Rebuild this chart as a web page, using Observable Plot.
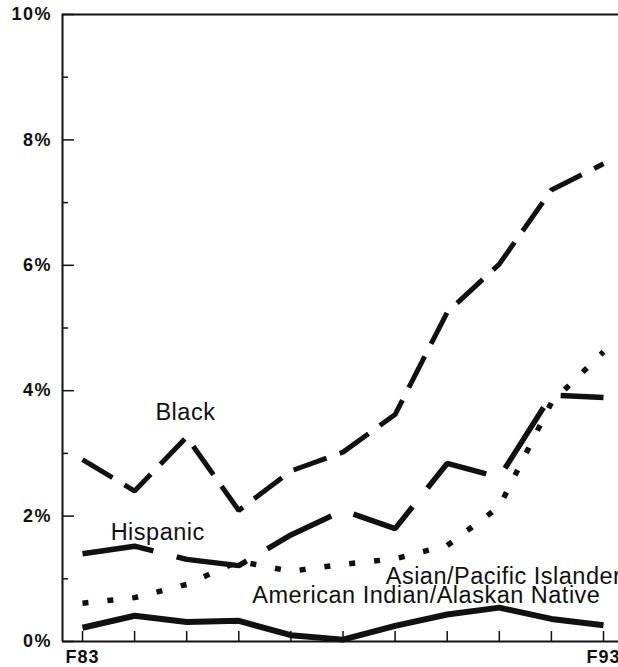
<!DOCTYPE html>
<html>
<head>
<meta charset="utf-8">
<script src="https://cdn.jsdelivr.net/npm/d3@7"></script>
<script src="https://cdn.jsdelivr.net/npm/@observablehq/plot@0.6"></script>
<style>
  html, body { margin: 0; padding: 0; background: #fff; }
  #chart { width: 618px; height: 667px; overflow: hidden; }
</style>
</head>
<body>
<div id="chart"></div>
<script>
// ---- data ----
const years = [83, 84, 85, 86, 87, 88, 89, 90, 91, 92, 93];
const black    = [2.90, 2.40, 3.26, 2.09, 2.72, 3.02, 3.62, 5.25, 6.02, 7.20, 7.62];
const hispanic = [1.40, 1.52, 1.31, 1.21, 1.70, 2.09, 1.80, 2.84, 2.62, 3.93, 3.89];
const asian    = [0.61, 0.70, 0.91, 1.28, 1.12, 1.23, 1.32, 1.53, 2.15, 3.81, 4.62];
const amIndian = [0.22, 0.41, 0.31, 0.33, 0.10, 0.03, 0.25, 0.43, 0.54, 0.36, 0.26];

const yTickValues = [0, 2, 4, 6, 8, 10];
const yMinorValues = [1, 3, 5, 7, 9];
const xTickLabels = [83, 93];

const seriesNames = ["Black", "Hispanic", "Asian/Pacific Islander", "American Indian/Alaskan Native"];
const seriesValues = [black, hispanic, asian, amIndian];

// label anchors (data units)
const labelX = [84.40, 83.54, 88.82, 86.26];
const labelY = [3.645, 1.74, 1.045, 0.734];

// ---- styles ----
const styles = {
  "Black": {strokeWidth: 5, dash: "35 14"},
  "Hispanic": {strokeWidth: 5.5, dash: "72 24"},
  "Asian/Pacific Islander": {strokeWidth: 5.5, dash: "6 19"},
  "American Indian/Alaskan Native": {strokeWidth: 6, dash: null}
};
const FONT = "'Liberation Sans', Arial, Helvetica, sans-serif";

// ---- layout ----
const W = 618, H = 667;
const mL = 62, mR = 0, mT = 14, mB = 26;
const pxPerYear = 52.1;
const x0 = 83 - (82 - mL) / pxPerYear;
const x1 = x0 + (W - mL - mR) / pxPerYear;
const pxPerPct = (H - mT - mB) / 10;

const rows = [];
seriesNames.forEach((name, i) => {
  years.forEach((yr, j) => rows.push({series: name, year: yr, value: seriesValues[i][j]}));
});

const labels = seriesNames.map((name, i) => ({name, x: labelX[i], y: labelY[i]}));

const lineMarks = seriesNames.map(name => Plot.line(rows.filter(r => r.series === name), {
  x: "year", y: "value",
  stroke: "#111",
  strokeWidth: styles[name].strokeWidth,
  strokeDasharray: styles[name].dash,
  strokeLinecap: "butt",
  strokeLinejoin: "miter"
}));

const chart = Plot.plot({
  width: W, height: H,
  marginLeft: mL, marginRight: mR, marginTop: mT, marginBottom: mB,
  style: {background: "#fff", fontFamily: FONT, color: "#111", overflow: "hidden"},
  x: {domain: [x0, x1], axis: null},
  y: {domain: [0, 10], axis: null},
  marks: [
    // tick labels
    Plot.text(yTickValues, {x: () => x0, y: d => d, text: d => d + "%", textAnchor: "end", lineAnchor: "middle",
      dx: -10.5, fontSize: 18, fontWeight: "bold", fontFamily: FONT, fill: "#111", className: "ylab"}),
    Plot.text(xTickLabels, {x: d => d, y: () => 0, text: d => "F" + d, textAnchor: "middle", lineAnchor: "top",
      dy: 9, fontSize: 18, fontWeight: "bold", fontFamily: FONT, fill: "#111", className: "xlab"}),
    // frame lines
    Plot.ruleY([0, 10], {stroke: "#111", strokeWidth: 2}),
    Plot.ruleX([x0], {stroke: "#111", strokeWidth: 2}),
    // y ticks (inward)
    Plot.ruleY(yTickValues, {y: d => d, x1: x0, x2: x0 + 12 / pxPerYear, stroke: "#111", strokeWidth: 1.5}),
    Plot.ruleY(yMinorValues, {y: d => d, x1: x0, x2: x0 + 6 / pxPerYear, stroke: "#111", strokeWidth: 1.5}),
    // x ticks (inward)
    Plot.ruleX(years, {x: d => d, y1: 0, y2: 10 / pxPerPct, stroke: "#111", strokeWidth: 1.5}),
    ...lineMarks,
    Plot.text(labels, {x: "x", y: "y", text: "name", textAnchor: "start", lineAnchor: "middle",
      fontSize: 23.5, fontWeight: "normal", fill: "#111", fontFamily: FONT, className: "slab"})
  ]
});

chart.querySelectorAll("g.slab").forEach(g => g.setAttribute("letter-spacing", "0.5"));
chart.querySelectorAll("g.ylab").forEach(g => g.setAttribute("letter-spacing", "1.5"));
chart.querySelectorAll("g.xlab").forEach(g => g.setAttribute("letter-spacing", "1"));

document.getElementById("chart").appendChild(chart);
</script>
</body>
</html>
